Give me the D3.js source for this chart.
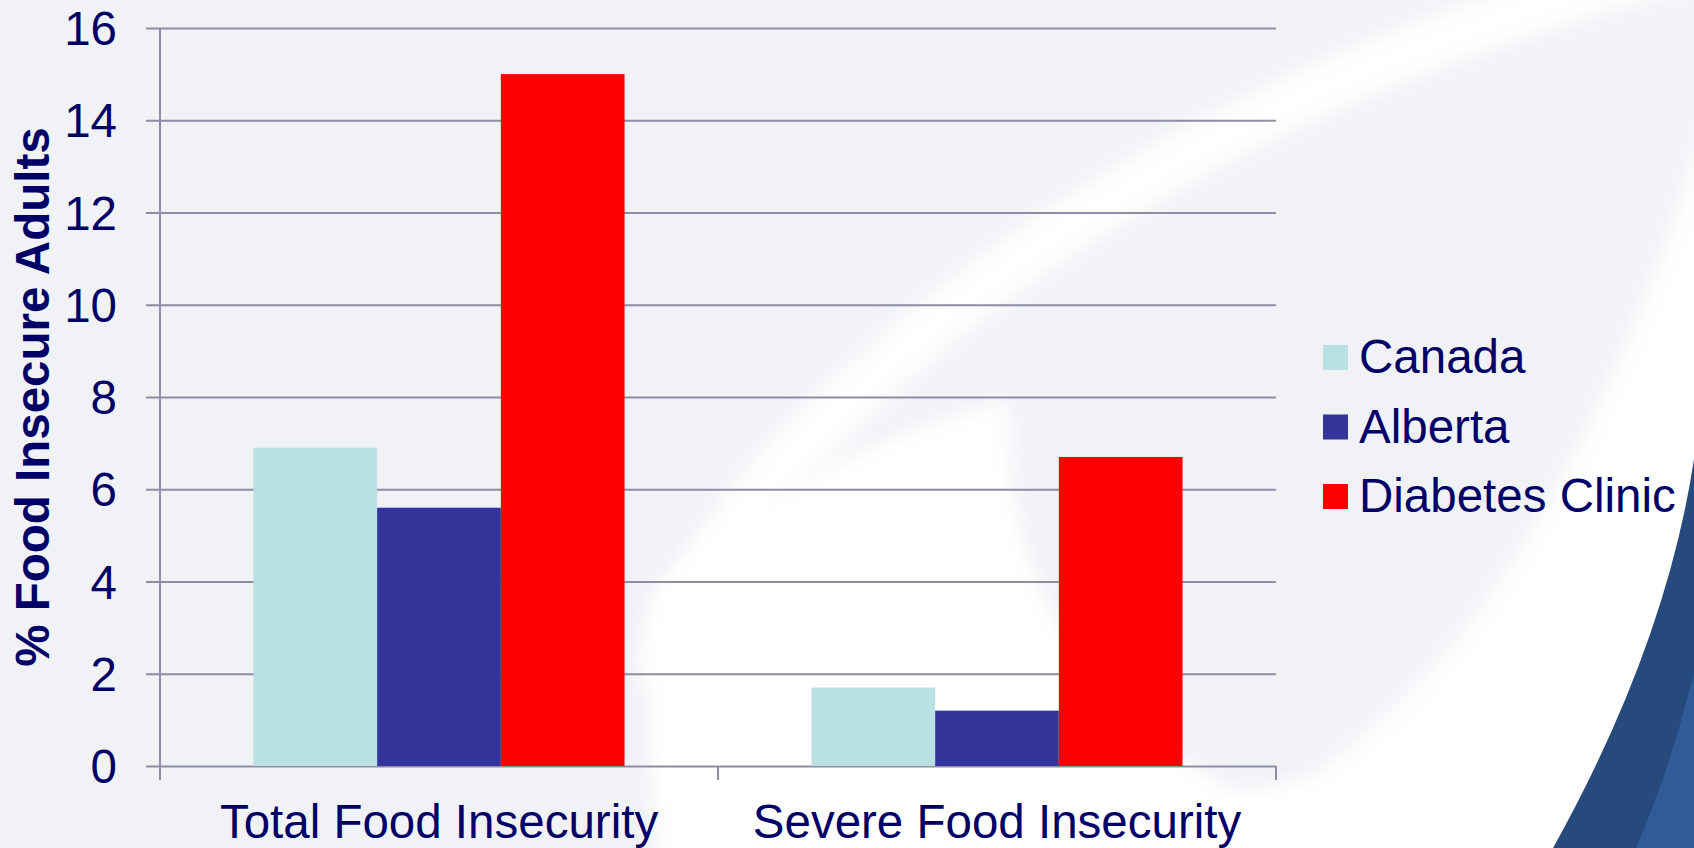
<!DOCTYPE html>
<html>
<head>
<meta charset="utf-8">
<script src="https://cdn.jsdelivr.net/npm/d3@7"></script>
<style>
  html, body { margin: 0; padding: 0; background: #f1f2f6; }
  svg { display: block; }
  text { font-family: "Liberation Sans", Arial, sans-serif; fill: #000066; }
</style>
</head>
<body>
<svg id="chart" width="1694" height="848"></svg>
<script>
// Food insecurity rates (% of adults)
const categories = ["Total Food Insecurity", "Severe Food Insecurity"];
const seriesNames = ["Canada", "Alberta", "Diabetes Clinic"];
const canada = [6.9, 1.7];
const alberta = [5.6, 1.2];
const diabetesClinic = [15.0, 6.7];
const yTicks = [0, 2, 4, 6, 8, 10, 12, 14, 16];
const seriesColors = ["#b9e0e3", "#35349a", "#ff0000"];

const seriesValues = [canada, alberta, diabetesClinic];
const rows = categories.map((c, i) => ({
  category: c,
  values: seriesNames.map((s, j) => ({ series: s, value: seriesValues[j][i] }))
}));

const W = 1694, H = 848;
const plot = { left: 160, right: 1276, top: 28, bottom: 766 };
const gridColor = "#8d8da5";
const fontSize = 47.5;

const svg = d3.select("#chart");

// ---- slide background: soft white swooshes and blue arc ----
const defs = svg.append("defs");
defs.append("filter").attr("id", "soft").attr("x", "-20%").attr("y", "-20%")
  .attr("width", "140%").attr("height", "140%")
  .append("feGaussianBlur").attr("stdDeviation", 12);
defs.append("filter").attr("id", "lens").attr("x", "-20%").attr("y", "-20%")
  .attr("width", "140%").attr("height", "140%")
  .append("feGaussianBlur").attr("stdDeviation", 10);

const bg = svg.append("g");
bg.append("rect").attr("width", W).attr("height", H).attr("fill", "#f1f2f6");

// lower central lens
bg.append("path")
  .attr("d", "M655,590 C740,500 880,430 1010,400 C1000,570 1080,705 1240,795 L1470,775 L1600,900 L665,900 C650,800 640,690 655,590 Z")
  .attr("fill", "#ffffff").attr("filter", "url(#lens)");
// diagonal streak from the top
bg.append("path")
  .attr("d", "M1700,-40 Q1180,90 860,390 Q700,530 662,680")
  .attr("fill", "none").attr("stroke", "#ffffff").attr("stroke-width", 52)
  .attr("filter", "url(#soft)");
// right-hand band beside the arc
bg.append("path")
  .attr("d", "M1720,70 C1640,360 1500,660 1300,782 C1200,815 1080,828 950,900 L1720,900 Z")
  .attr("fill", "#ffffff").attr("filter", "url(#soft)");
// blue arc
bg.append("path")
  .attr("d", "M1694,459 Q1666,645 1553,848 L1694,848 Z")
  .attr("fill", "#264a7c");
bg.append("path")
  .attr("d", "M1694,672 Q1670,770 1636,848 L1694,848 Z")
  .attr("fill", "#2f5b99");

// ---- scales ----
const x0 = d3.scaleBand().domain(categories)
  .range([plot.left, plot.right]).paddingInner(0.335).paddingOuter(0.1675);
const x1 = d3.scaleBand().domain(seriesNames).range([0, x0.bandwidth()]);
const y = d3.scaleLinear().domain([0, 16]).range([plot.bottom, plot.top]);
const color = d3.scaleOrdinal().domain(seriesNames).range(seriesColors);

// ---- horizontal gridlines (extend left past the axis as ticks) ----
const grid = svg.append("g")
  .attr("transform", `translate(${plot.right},0)`)
  .call(d3.axisLeft(y).tickValues(yTicks).tickSize(plot.right - plot.left + 14).tickFormat(""));
grid.select(".domain").remove();
grid.selectAll("line").attr("stroke", gridColor).attr("stroke-width", 2);

// ---- bars ----
svg.append("g").selectAll("g")
  .data(rows).join("g")
  .attr("transform", d => `translate(${x0(d.category)},0)`)
  .selectAll("rect")
  .data(d => d.values).join("rect")
  .attr("x", d => x1(d.series))
  .attr("width", x1.bandwidth())
  .attr("y", d => y(d.value))
  .attr("height", d => y(0) - y(d.value))
  .attr("fill", d => color(d.series));

// ---- y axis ----
const yAxis = svg.append("g")
  .attr("transform", `translate(${plot.left},0)`)
  .call(d3.axisLeft(y).tickValues(yTicks).tickSize(0).tickPadding(43).tickFormat(d3.format("d")));
yAxis.select(".domain").remove();
yAxis.selectAll("text")
  .attr("font-size", fontSize).attr("font-family", null).attr("fill", "#000066")
  .attr("dy", "0.35em");
svg.append("line")
  .attr("x1", plot.left).attr("x2", plot.left)
  .attr("y1", y(16)).attr("y2", y(0) + 14)
  .attr("stroke", gridColor).attr("stroke-width", 2);

// ---- x axis ----
const boundaries = [plot.left].concat(categories.map(c => x0(c) + x0.bandwidth() + x0.step() * x0.paddingInner() / 2));
boundaries[boundaries.length - 1] = plot.right;
svg.append("g").selectAll("line")
  .data(boundaries).join("line")
  .attr("x1", d => d).attr("x2", d => d)
  .attr("y1", y(0)).attr("y2", y(0) + 14)
  .attr("stroke", gridColor).attr("stroke-width", 2);

const xAxis = svg.append("g")
  .attr("transform", `translate(0,${y(0)})`)
  .call(d3.axisBottom(x0).tickSize(0).tickPadding(0));
xAxis.select(".domain").remove();
xAxis.selectAll("text")
  .attr("font-size", fontSize).attr("font-family", null).attr("fill", "#000066")
  .attr("y", 72).attr("dy", 0);

// ---- y axis title ----
svg.append("text")
  .attr("transform", `translate(49,${(plot.top + plot.bottom) / 2}) rotate(-90)`)
  .attr("text-anchor", "middle")
  .attr("font-size", fontSize).attr("font-weight", "bold")
  .text("% Food Insecure Adults");

// ---- legend ----
const legend = svg.append("g").attr("transform", "translate(1323,345)");
const item = legend.selectAll("g").data(seriesNames).join("g")
  .attr("transform", (d, i) => `translate(0,${i * 69.5})`);
item.append("rect").attr("width", 25).attr("height", 25).attr("fill", d => color(d));
item.append("text").attr("x", 36).attr("y", 28)
  .attr("font-size", fontSize).text(d => d);
</script>
</body>
</html>
